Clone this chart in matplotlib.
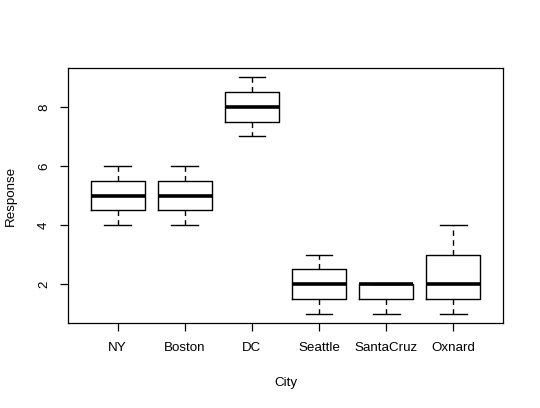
import matplotlib
matplotlib.use("Agg")
import matplotlib.pyplot as plt

plt.rcParams['font.family'] = ['Liberation Sans', 'DejaVu Sans']

cities = ['NY', 'Boston', 'DC', 'Seattle', 'SantaCruz', 'Oxnard']
whisker_lo = [4, 4, 7, 1, 1, 1]
q1 = [4.5, 4.5, 7.5, 1.5, 1.5, 1.5]
medians = [5, 5, 8, 2, 2, 2]
q3 = [5.5, 5.5, 8.5, 2.5, 2, 3]
whisker_hi = [6, 6, 9, 3, 2, 4]

stats = []
for i, name in enumerate(cities):
    stats.append(dict(label=name, whislo=whisker_lo[i], q1=q1[i], med=medians[i],
                      q3=q3[i], whishi=whisker_hi[i], fliers=[]))

fig = plt.figure(figsize=(5.4, 4.08), dpi=100)
ax = fig.add_axes([68/540, 1 - 323/408, 435/540, 255/408])

ax.bxp(stats, positions=range(1, 7), widths=0.8, showfliers=False,
       boxprops=dict(color='black', linewidth=1),
       medianprops=dict(color='black', linewidth=2.6, solid_capstyle='butt'),
       whiskerprops=dict(color='black', linewidth=1, linestyle=(0, (4, 3))),
       capprops=dict(color='black', linewidth=1), capwidths=0.4)

ax.set_xlim(0.26, 6.74)
ax.set_ylim(0.68, 9.32)
ax.set_yticks([2, 4, 6, 8])
ax.set_xticks(range(1, 7))
ax.set_xticklabels(cities)
for lab in ax.get_yticklabels():
    lab.set_rotation(90)
    lab.set_va('center')
ax.tick_params(direction='out', length=6, width=0.9, labelsize=9.6, pad=7)
ax.tick_params(axis='x', pad=8)
for s in ax.spines.values():
    s.set_linewidth(0.9)

ax.set_xlabel('City', fontsize=9.6, labelpad=16)
ax.set_ylabel('Response', fontsize=9.6, labelpad=15)

fig.savefig('out.png', dpi=100)
